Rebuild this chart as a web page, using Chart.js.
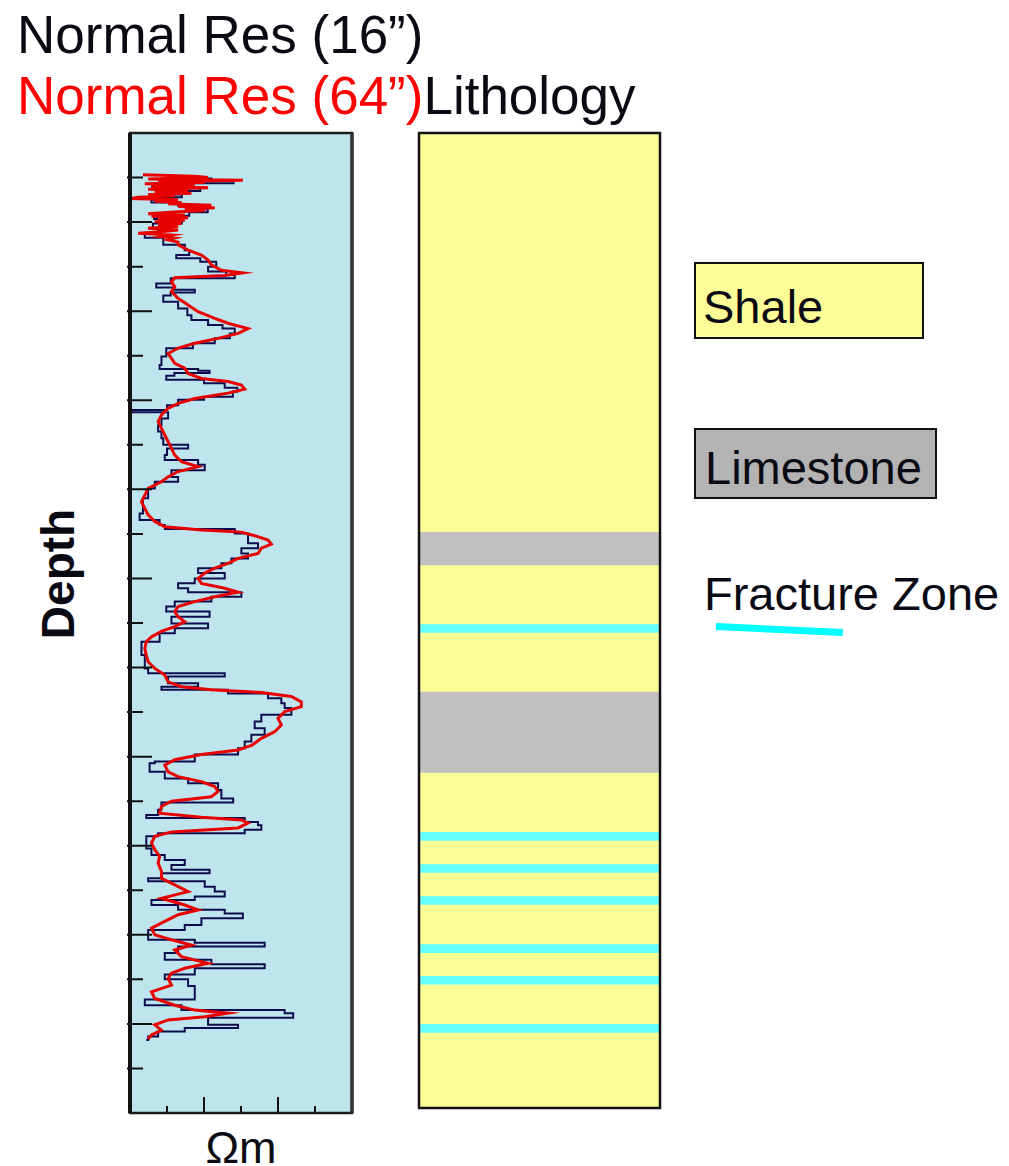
<!DOCTYPE html>
<html>
<head>
<meta charset="utf-8">
<script src="https://cdn.jsdelivr.net/npm/chart.js@4.4.1/dist/chart.umd.min.js"></script>
<style>
  body { margin: 0; background: #fff; width: 1009px; height: 1166px; position: relative; overflow: hidden;
         font-family: "Liberation Sans", Arial, sans-serif; color: #0a0a14; }
  .txt { position: absolute; white-space: nowrap; }
  .box { position: absolute; box-sizing: border-box; border: 2px solid #111; }
  canvas { position: absolute; }
</style>
</head>
<body>
<div class="txt" style="left:17px;top:8px;font-size:53px;line-height:53px;">Normal Res (16”)</div>
<div class="txt" style="left:17px;top:69px;font-size:53px;line-height:53px;"><span style="color:#ff0000">Normal Res (64”)</span>Lithology</div>
<div class="txt" style="left:-42px;top:551px;width:200px;height:46px;font-size:46px;line-height:46px;font-weight:bold;text-align:center;transform:rotate(-90deg);">Depth</div>
<div class="txt" style="left:141px;top:1125px;width:200px;font-size:45px;line-height:45px;text-align:center;">Ωm</div>

<canvas id="logChart" width="260" height="1020" style="left:110px;top:113px"></canvas>
<canvas id="lithChart" width="261" height="995" style="left:409px;top:123px"></canvas>

<!-- legend -->
<div class="box" style="left:694px;top:262px;width:230px;height:77px;background:#fdfd98;"></div>
<div class="txt" style="left:703px;top:283px;font-size:47px;line-height:47px;">Shale</div>
<div class="box" style="left:694px;top:428px;width:243px;height:71px;background:#b3b3b3;"></div>
<div class="txt" style="left:705px;top:444px;font-size:47px;line-height:47px;">Limestone</div>
<div class="txt" style="left:704px;top:570px;font-size:47px;line-height:47px;">Fracture Zone</div>
<div style="position:absolute;left:716px;top:623px;width:127px;height:7px;background:#00ffff;transform:rotate(2.7deg);transform-origin:left center;"></div>

<script>
// depth (0-220) / resistivity (0-60 ohm-m)
const log64 = [
  [9.4, 3.5], [9.7, 17.5], [10.0, 21.1], [10.3, 4.9], [10.6, 30.5], [10.9, 7.6], [11.1, 20.2], [11.4, 4.0],
  [11.7, 17.5], [12.0, 5.8], [12.3, 21.1], [12.6, 4.9], [12.9, 15.7], [13.2, 6.7], [13.5, 16.6], [13.8, 4.9],
  [14.1, 12.1], [14.4, 2.2], [14.7, 0.4], [15.0, 13.0], [15.3, 6.7], [15.6, 13.9], [15.9, 10.3], [16.2, 22.0],
  [16.5, 13.0], [16.8, 22.9], [17.1, 14.8], [17.4, 20.2], [17.7, 13.0], [18.1, 4.9], [18.4, 14.8], [18.7, 5.8],
  [19.0, 15.7], [19.3, 7.6], [19.6, 14.8], [19.9, 6.7], [20.3, 13.9], [20.7, 7.6], [21.0, 13.0], [21.4, 4.9],
  [21.8, 13.0], [22.2, 7.6], [22.5, 2.2], [22.9, 11.2], [23.3, 8.5], [23.6, 12.1], [24.0, 10.3], [24.5, 13.0],
  [25.1, 13.0], [26.3, 15.7], [27.4, 19.3], [28.5, 21.1], [29.6, 22.0], [30.8, 24.7], [31.4, 30.5], [32.0, 25.6],
  [32.5, 12.1], [33.4, 11.2], [34.5, 12.1], [35.6, 11.2], [37.1, 13.0], [38.6, 15.7], [40.1, 18.4], [41.6, 22.9],
  [42.7, 26.5], [43.9, 31.9], [45.0, 29.2], [46.1, 23.8], [47.2, 17.5], [48.3, 13.0], [49.5, 10.3], [50.6, 11.2],
  [51.7, 12.1], [52.8, 14.8], [54.0, 15.7], [55.1, 19.3], [55.8, 26.5], [56.6, 30.1], [57.5, 31.0], [58.4, 26.5],
  [59.6, 17.5], [60.7, 13.0], [61.8, 10.3], [63.3, 8.5], [64.8, 7.6], [66.3, 8.5], [67.8, 9.4], [69.3, 10.3],
  [70.8, 11.2], [72.3, 12.1], [73.8, 13.9], [74.9, 18.4], [76.0, 13.0], [77.2, 10.3], [78.3, 8.5], [79.8, 4.9],
  [81.3, 4.0], [82.8, 3.1], [84.3, 4.0], [85.7, 4.9], [87.2, 6.7], [88.4, 9.4], [89.1, 19.3], [89.6, 30.1],
  [90.4, 33.7], [91.4, 37.3], [92.3, 38.2], [93.2, 35.5], [94.4, 34.6], [95.5, 29.2], [96.6, 26.5], [97.7, 22.9],
  [98.8, 20.2], [100.0, 18.4], [101.1, 19.3], [102.2, 25.6], [103.1, 29.2], [104.1, 22.9], [105.2, 17.5], [106.3, 13.0],
  [107.4, 12.1], [108.6, 13.0], [109.7, 14.8], [110.8, 12.1], [111.9, 8.5], [113.1, 5.8], [114.2, 4.4], [115.7, 4.0],
  [117.2, 4.4], [118.7, 4.9], [120.2, 6.7], [121.7, 9.4], [123.2, 10.3], [124.3, 13.9], [125.0, 22.0], [125.6, 35.5],
  [126.5, 43.6], [127.7, 46.3], [128.8, 46.3], [129.9, 41.8], [131.4, 40.0], [132.9, 40.9], [134.4, 39.1], [135.9, 35.5],
  [137.4, 33.0], [138.5, 29.2], [139.5, 19.3], [140.7, 12.1], [141.9, 9.4], [143.4, 10.3], [144.5, 13.0], [145.6, 19.3],
  [146.7, 22.9], [147.8, 23.8], [149.0, 22.0], [150.0, 11.2], [151.2, 8.5], [152.7, 8.0], [153.6, 19.3], [154.2, 30.1],
  [154.9, 31.9], [156.0, 29.2], [156.9, 11.2], [157.9, 6.7], [159.4, 5.8], [160.9, 6.7], [162.4, 8.0], [163.9, 7.6],
  [165.8, 8.5], [167.3, 8.5], [168.8, 12.1], [170.3, 15.7], [171.8, 8.5], [173.3, 14.8], [174.4, 18.4], [175.5, 13.0],
  [177.0, 9.4], [178.5, 5.8], [180.0, 6.7], [181.1, 11.2], [182.3, 16.6], [183.4, 12.1], [184.9, 13.9], [186.4, 21.1],
  [187.5, 14.8], [188.6, 11.2], [189.8, 10.3], [191.3, 11.2], [192.8, 5.8], [194.3, 6.7], [195.8, 12.1], [196.9, 17.5],
  [197.6, 26.5], [198.4, 20.2], [199.1, 10.3], [200.2, 6.7], [201.4, 8.5], [202.5, 5.8], [203.4, 4.9]
];

const log16 = [
  [9.6, 14.3], [10.2, 22.0], [10.7, 28.0], [11.3, 16.0], [11.8, 6.0], [12.4, 19.0], [13.0, 7.0], [13.8, 14.0],
  [14.4, 8.0], [15.0, 5.8], [15.6, 13.0], [16.3, 20.0], [17.1, 21.0], [17.8, 16.0], [18.6, 6.5], [19.3, 14.0],
  [20.3, 6.2], [21.4, 7.6], [22.5, 4.0], [23.5, 9.0], [25.1, 14.8], [26.3, 16.0], [27.4, 12.5], [28.1, 19.0],
  [28.9, 23.3], [30.0, 21.1], [31.1, 26.0], [31.9, 28.3], [32.6, 11.0], [33.8, 7.1], [34.7, 12.0], [35.2, 17.5],
  [35.8, 11.0], [36.5, 9.0], [37.9, 13.0], [39.4, 15.5], [40.9, 16.6], [42.0, 21.1], [43.1, 25.0], [43.9, 28.3],
  [45.0, 27.0], [46.1, 22.9], [47.2, 17.0], [48.3, 9.8], [50.2, 8.5], [52.1, 8.0], [53.0, 18.4], [53.4, 21.5],
  [53.9, 12.0], [54.5, 9.8], [55.4, 20.0], [56.2, 25.6], [57.2, 29.0], [58.1, 27.8], [59.2, 20.0], [59.9, 13.0],
  [61.1, 10.0], [62.2, 0.5], [62.7, 10.3], [64.1, 8.5], [65.6, 7.6], [67.0, 8.5], [68.5, 9.0], [70.0, 15.7],
  [70.8, 10.0], [72.3, 9.4], [73.4, 18.4], [74.5, 20.2], [75.7, 11.2], [77.2, 13.0], [78.3, 6.7], [79.8, 4.9],
  [82.0, 3.5], [85.4, 2.6], [86.9, 8.0], [88.0, 9.4], [88.9, 28.3], [89.9, 31.9], [91.0, 31.9], [92.1, 34.6],
  [93.2, 30.1], [94.4, 31.9], [95.5, 27.4], [96.6, 24.7], [97.7, 18.4], [98.8, 25.6], [100.0, 17.5], [101.1, 13.0],
  [102.2, 15.7], [103.1, 30.1], [104.1, 22.0], [105.2, 12.1], [106.3, 9.8], [107.4, 21.5], [108.6, 11.2], [110.1, 21.1],
  [111.2, 12.1], [112.3, 8.0], [114.2, 3.1], [117.2, 4.0], [120.2, 4.9], [121.3, 25.6], [122.0, 10.3], [123.5, 18.4],
  [124.3, 8.5], [125.0, 26.5], [125.8, 37.3], [126.9, 40.9], [128.0, 41.8], [129.1, 43.6], [130.6, 35.5], [132.1, 33.7],
  [133.6, 36.4], [135.1, 32.8], [136.6, 31.0], [138.1, 29.2], [139.5, 17.5], [141.1, 6.7], [141.5, 5.3], [143.4, 9.4],
  [144.9, 15.7], [146.0, 23.8], [147.5, 24.7], [149.4, 27.9], [150.3, 8.5], [151.9, 7.6], [153.1, 4.4], [153.8, 31.0],
  [154.7, 34.6], [155.4, 35.5], [156.4, 31.0], [157.2, 7.6], [157.9, 4.4], [160.6, 5.8], [162.1, 9.4], [163.2, 14.8],
  [164.3, 11.2], [165.4, 21.5], [166.2, 8.5], [167.3, 4.9], [168.0, 20.2], [169.2, 22.9], [170.3, 25.6], [171.4, 17.5],
  [172.2, 5.8], [173.3, 13.0], [174.4, 25.6], [175.2, 30.5], [176.3, 19.3], [177.8, 14.8], [178.9, 4.9], [180.0, 4.9],
  [181.1, 17.5], [181.8, 36.4], [182.6, 13.0], [184.1, 9.4], [185.6, 22.0], [186.6, 36.4], [187.5, 17.5], [188.9, 9.4],
  [190.0, 15.7], [191.5, 17.5], [193.0, 17.5], [194.5, 4.0], [195.8, 13.9], [196.9, 41.8], [197.6, 44.1], [198.6, 21.1],
  [199.5, 21.1], [200.2, 29.2], [200.9, 14.8], [201.7, 7.6], [202.8, 4.9], [203.6, 4.4]
];

const depthTicks = [10, 20, 30, 40, 50, 60, 70, 80, 90, 100, 110, 120, 130, 140, 150, 160, 170, 180, 190, 200, 210];
const resTicks = [10, 20, 30, 40, 50];

// lithology column
const columnDepth = 219;
const limestoneTop = [89.7, 125.6];
const limestoneBase = [97.0, 143.6];
const fractureDepths = [111.3, 158.0, 165.2, 172.4, 183.2, 190.3, 201.1];
const fractureHalf = 0.9;

// background, frame and inward ticks of the log track
const logFrame = {
  id: 'logFrame',
  beforeDraw(chart) {
    const { ctx, chartArea: a } = chart;
    ctx.save();
    ctx.fillStyle = '#bee5ed';
    ctx.fillRect(a.left, a.top, a.right - a.left, a.bottom - a.top);
    ctx.restore();
  },
  afterDraw(chart) {
    const { ctx, chartArea: a, scales } = chart;
    ctx.save();
    ctx.strokeStyle = '#1a1a1a';
    ctx.lineWidth = 2.5;
    ctx.strokeRect(a.left, a.top, a.right - a.left, a.bottom - a.top);
    ctx.beginPath();
    ctx.strokeStyle = '#333';
    ctx.lineWidth = 3.5;
    ctx.moveTo(a.right, a.top);
    ctx.lineTo(a.right, a.bottom);
    ctx.stroke();
    ctx.beginPath();
    ctx.strokeStyle = '#111';
    ctx.lineWidth = 4;
    ctx.moveTo(a.left, a.top);
    ctx.lineTo(a.left, a.bottom);
    ctx.stroke();

    ctx.beginPath();
    ctx.lineWidth = 2;
    depthTicks.forEach((d, i) => {
      const y = scales.y.getPixelForValue(d);
      ctx.moveTo(a.left - 3, y);
      ctx.lineTo(a.left + (i % 2 === 1 ? 22 : 13), y);
    });
    resTicks.forEach(v => {
      const x = scales.x.getPixelForValue(v);
      ctx.moveTo(x, a.bottom);
      ctx.lineTo(x, a.bottom - (v % 20 === 0 ? 16 : 7));
    });
    ctx.stroke();
    ctx.restore();
  }
};

const lithFrame = {
  id: 'lithFrame',
  afterDraw(chart) {
    const { ctx, chartArea: a } = chart;
    ctx.save();
    ctx.strokeStyle = '#111';
    ctx.lineWidth = 2.5;
    ctx.strokeRect(a.left, a.top, a.right - a.left, a.bottom - a.top);
    ctx.restore();
  }
};

new Chart(document.getElementById('logChart'), {
  type: 'scatter',
  data: {
    datasets: [
      {
        label: 'Normal Res (64”)',
        data: log64.map(([d, r]) => ({ x: r, y: d })),
        showLine: true,
        borderColor: '#e80000',
        borderWidth: 3,
        pointRadius: 0,
        order: 0
      },
      {
        label: 'Normal Res (16”)',
        data: log16.map(([d, r]) => ({ x: r, y: d })),
        showLine: true,
        stepped: 'after',
        borderColor: '#0c0c4e',
        borderWidth: 2,
        pointRadius: 0,
        order: 1
      }
    ]
  },
  options: {
    responsive: false,
    animation: false,
    layout: { padding: { left: 20, top: 20, right: 18, bottom: 20 } },
    scales: {
      x: { type: 'linear', min: 0, max: 60, display: false },
      y: { type: 'linear', min: 0, max: 220, reverse: true, display: false }
    },
    plugins: { legend: { display: false }, tooltip: { enabled: false } }
  },
  plugins: [logFrame]
});

const lithSets = [
  { label: 'Shale', data: [[0, columnDepth]], backgroundColor: '#fdfd98', order: 2 },
  ...limestoneTop.map((t, i) => ({ label: 'Limestone', data: [[t, limestoneBase[i]]], backgroundColor: '#c0c0c0', order: 1 })),
  ...fractureDepths.map(d => ({ label: 'Fracture Zone', data: [[d - fractureHalf, d + fractureHalf]], backgroundColor: '#66ffff', order: 0 }))
];

new Chart(document.getElementById('lithChart'), {
  type: 'bar',
  data: { labels: ['Lithology'], datasets: lithSets },
  options: {
    responsive: false,
    animation: false,
    layout: { padding: 10 },
    datasets: { bar: { grouped: false, barPercentage: 1, categoryPercentage: 1, borderWidth: 0 } },
    scales: {
      x: { display: false },
      y: { min: 0, max: columnDepth, reverse: true, display: false }
    },
    plugins: { legend: { display: false }, tooltip: { enabled: false } }
  },
  plugins: [lithFrame]
});
</script>
</body>
</html>
